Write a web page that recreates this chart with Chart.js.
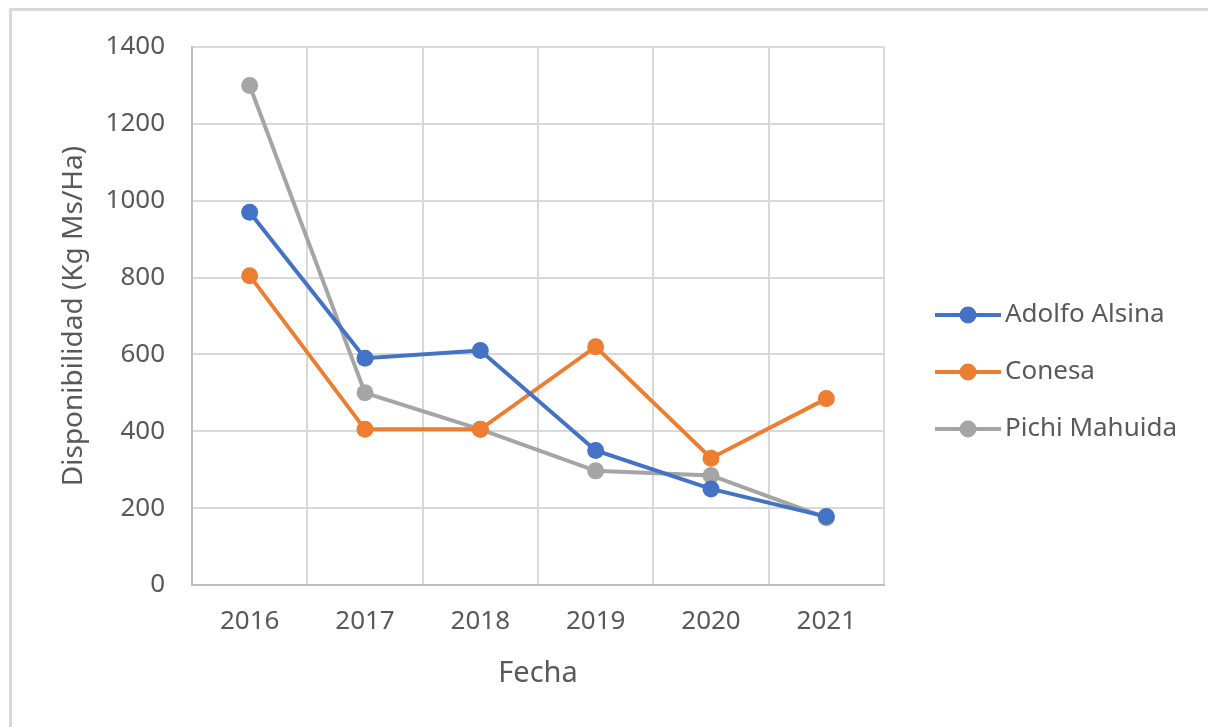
<!DOCTYPE html>
<html>
<head>
<meta charset="utf-8">
<script src="https://cdn.jsdelivr.net/npm/chart.js@4"></script>
<style>
    body { margin: 0; background: #fff; }
    #frame {
        position: absolute; left: 9px; top: 8px; width: 1300px; height: 800px;
        border-top: 3px solid #d9d9d9; border-left: 3px solid #d9d9d9;
    }
    #wrap { position: absolute; left: 0; top: 0; width: 1208px; height: 727px; }
</style>
</head>
<body>
<div id="frame"></div>
<div id="wrap"><canvas id="lineChart" width="1208" height="727"></canvas></div>
<script>
const years = ['2016', '2017', '2018', '2019', '2020', '2021'];
const adolfoAlsina = [970, 590, 610, 350, 250, 178];
const conesa = [805, 405, 405, 620, 330, 485];
const pichiMahuida = [1300, 500, 405, 297, 285, 175];
const seriesNames = ['Adolfo Alsina', 'Conesa', 'Pichi Mahuida'];
const seriesColors = ['#4472C4', '#ED7D31', '#A5A5A5'];

const textColor = '#595959';
const fontFamily = "'Noto Sans', 'Open Sans', sans-serif";

// legend drawn by hand so the marker looks like a line with a dot
const sideLegend = {
    id: 'sideLegend',
    afterDraw(chart) {
        const ctx = chart.ctx;
        const rows = [315, 372, 429];
        ctx.save();
        chart.data.datasets.forEach((ds, i) => {
            const y = rows[i];
            ctx.strokeStyle = ds.borderColor;
            ctx.lineWidth = 4;
            ctx.beginPath();
            ctx.moveTo(935, y);
            ctx.lineTo(1001, y);
            ctx.stroke();
            ctx.fillStyle = ds.borderColor;
            ctx.beginPath();
            ctx.arc(968, y, 8.5, 0, Math.PI * 2);
            ctx.fill();
            ctx.fillStyle = textColor;
            ctx.font = '26px ' + fontFamily;
            ctx.textBaseline = 'middle';
            ctx.fillText(ds.label, 1005, y);
        });
        ctx.restore();
    }
};

function makeDataset(name, values, color) {
    return {
        label: name,
        data: values,
        borderColor: color,
        backgroundColor: color,
        borderWidth: 4,
        pointRadius: 8.5,
        pointHoverRadius: 8.5,
        pointBorderWidth: 0,
        tension: 0
    };
}

const config = {
    type: 'line',
    data: {
        labels: years,
        datasets: [
            makeDataset(seriesNames[0], adolfoAlsina, seriesColors[0]),
            makeDataset(seriesNames[1], conesa, seriesColors[1]),
            makeDataset(seriesNames[2], pichiMahuida, seriesColors[2])
        ]
    },
    options: {
        responsive: false,
        animation: false,
        layout: {
            padding: { top: 47, left: 50, right: 324, bottom: 30 }
        },
        plugins: {
            legend: { display: false },
            tooltip: { enabled: false }
        },
        scales: {
            x: {
                offset: true,
                grid: { offset: true, color: '#d9d9d9', lineWidth: 2, drawTicks: false },
                border: { color: '#bfbfbf', width: 2 },
                ticks: { color: textColor, padding: 21, font: { family: fontFamily, size: 26 } },
                title: {
                    display: true,
                    text: 'Fecha',
                    color: textColor,
                    padding: { top: 0, bottom: 6 },
                    font: { family: fontFamily, size: 29 }
                },
                afterFit(scale) { scale.height = 727 - 30 - 585; }
            },
            y: {
                min: 0,
                max: 1400,
                grid: { color: '#d9d9d9', lineWidth: 2, drawTicks: false },
                border: { color: '#bfbfbf', width: 2 },
                ticks: {
                    stepSize: 200,
                    color: textColor,
                    padding: 27,
                    font: { family: fontFamily, size: 26 },
                    callback: (v) => String(v)
                },
                title: {
                    display: true,
                    text: 'Disponibilidad (Kg Ms/Ha)',
                    color: textColor,
                    padding: { top: 7, bottom: 0 },
                    font: { family: fontFamily, size: 28 }
                },
                afterFit(scale) { scale.width = 192 - 50; }
            }
        }
    },
    plugins: [sideLegend]
};

new Chart(document.getElementById('lineChart'), config);
</script>
</body>
</html>
